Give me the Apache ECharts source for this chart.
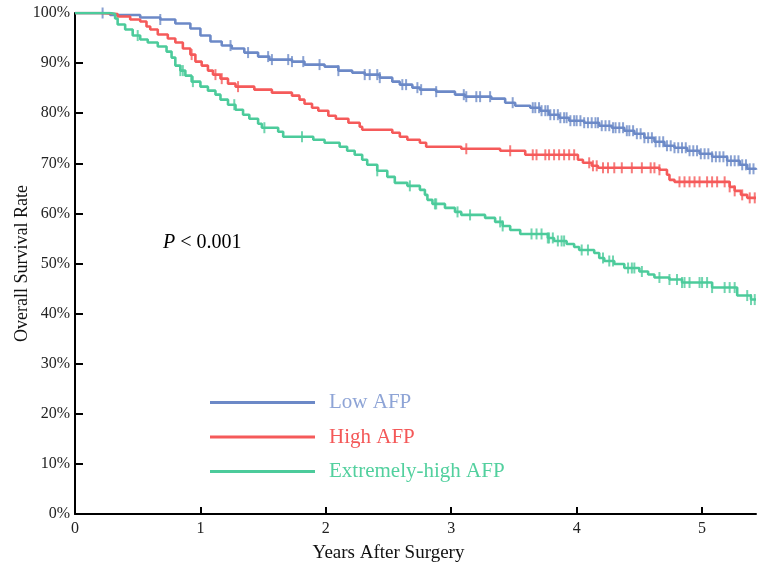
<!DOCTYPE html>
<html>
<head>
<meta charset="utf-8">
<script src="https://cdn.jsdelivr.net/npm/echarts@6/dist/echarts.min.js"></script>
<style>html,body{margin:0;padding:0;background:#fff}#c{width:758px;height:566px}</style>
</head>
<body>
<div id="c"></div>
<script>
// Kaplan-Meier drop points: [years, survival %] (step after each point)
var lowDrops = [[0,100],[0.28,99.6],[0.52,99.1],[0.68,98.7],[0.80,97.9],[0.92,96.9],[1.00,95.5],[1.08,94.3],[1.17,93.5],[1.25,92.9],[1.35,92.1],[1.46,91.3],[1.55,90.7],[1.73,90.3],[1.83,89.7],[1.99,89.3],[2.10,88.5],[2.21,88.1],[2.31,87.7],[2.43,87.1],[2.53,86.3],[2.59,85.7],[2.69,85.1],[2.75,84.7],[2.88,84.3],[3.03,83.7],[3.11,83.3],[3.32,82.9],[3.43,82.1],[3.51,81.5],[3.63,81.1],[3.71,80.5],[3.78,79.7],[3.86,79.1],[3.94,78.5],[4.06,78.1],[4.18,77.5],[4.28,77.1],[4.38,76.5],[4.46,75.9],[4.54,75.1],[4.62,74.3],[4.70,73.5],[4.78,73.1],[4.88,72.5],[4.98,71.9],[5.08,71.3],[5.20,70.5],[5.30,69.7],[5.36,68.9],[5.43,68.7]];
var highDrops = [[0,100],[0.20,99.8],[0.34,99.3],[0.44,98.7],[0.52,98.3],[0.57,97.3],[0.60,96.7],[0.66,95.7],[0.74,94.9],[0.80,94.1],[0.86,92.9],[0.92,91.7],[0.96,90.3],[1.01,89.5],[1.06,88.5],[1.10,87.7],[1.16,86.9],[1.22,85.9],[1.28,85.3],[1.43,84.7],[1.57,84.1],[1.73,83.5],[1.79,82.7],[1.83,81.9],[1.89,81.1],[1.94,80.5],[2.02,79.5],[2.08,78.9],[2.18,78.1],[2.27,77.3],[2.29,76.7],[2.53,76.1],[2.59,75.3],[2.65,74.7],[2.75,74.1],[2.80,73.3],[3.08,72.9],[3.39,72.5],[3.59,71.7],[4.01,70.7],[4.05,70.1],[4.12,69.5],[4.17,69.1],[4.66,68.7],[4.72,67.7],[4.74,66.7],[4.78,66.3],[5.22,65.3],[5.26,64.5],[5.31,63.7],[5.36,63.1],[5.43,63.1]];
var extDrops = [[0,100],[0.28,99.8],[0.32,98.9],[0.34,97.7],[0.40,96.7],[0.46,95.5],[0.52,94.7],[0.58,94.1],[0.66,93.3],[0.73,92.3],[0.77,91.1],[0.80,89.5],[0.84,88.5],[0.88,87.5],[0.93,86.3],[1.00,85.3],[1.06,84.5],[1.12,83.7],[1.16,82.7],[1.22,81.7],[1.28,80.7],[1.34,79.7],[1.39,78.9],[1.46,77.9],[1.49,77.1],[1.62,76.3],[1.66,75.3],[1.90,74.7],[1.99,74.1],[2.11,73.3],[2.17,72.5],[2.23,71.7],[2.29,70.7],[2.33,69.7],[2.41,68.5],[2.49,67.3],[2.55,66.1],[2.65,65.5],[2.75,64.7],[2.79,63.7],[2.81,62.7],[2.85,61.9],[2.95,61.1],[3.03,60.3],[3.08,59.7],[3.27,59.1],[3.35,58.3],[3.41,57.5],[3.47,56.7],[3.55,55.9],[3.77,55.1],[3.82,54.5],[3.92,53.9],[3.98,53.3],[4.02,52.7],[4.14,52.1],[4.18,51.1],[4.22,50.5],[4.30,49.9],[4.38,49.1],[4.50,48.4],[4.57,47.8],[4.62,47.2],[4.74,46.8],[4.84,46.2],[5.08,45.2],[5.28,43.6],[5.39,42.8],[5.43,42.8]];

// Censoring times (years)
var lowCensor = [0.22,0.68,1.24,1.38,1.54,1.57,1.70,1.73,1.82,1.95,2.10,2.31,2.35,2.41,2.43,2.61,2.64,2.73,2.76,2.88,3.10,3.12,3.20,3.23,3.31,3.49,3.65,3.67,3.70,3.72,3.75,3.77,3.79,3.82,3.85,3.87,3.90,3.92,3.95,3.98,4.00,4.03,4.06,4.09,4.12,4.15,4.17,4.20,4.23,4.26,4.29,4.31,4.34,4.37,4.40,4.42,4.45,4.48,4.51,4.54,4.57,4.60,4.63,4.66,4.69,4.72,4.75,4.78,4.81,4.84,4.87,4.90,4.93,4.96,4.99,5.02,5.05,5.08,5.11,5.14,5.17,5.20,5.23,5.26,5.29,5.32,5.35,5.38,5.41];
var highCensor = [0.93,1.12,1.17,1.30,3.12,3.47,3.65,3.68,3.75,3.78,3.82,3.86,3.90,3.94,3.98,4.10,4.13,4.16,4.21,4.25,4.30,4.36,4.44,4.52,4.59,4.62,4.66,4.82,4.86,4.90,4.94,4.98,5.04,5.08,5.12,5.18,5.22,5.26,5.32,5.38,5.42];
var extCensor = [0.50,0.84,0.86,0.94,1.27,1.51,1.81,2.41,2.67,2.87,2.88,3.05,3.15,3.39,3.41,3.64,3.68,3.72,3.77,3.78,3.81,3.85,3.88,3.90,4.04,4.09,4.21,4.26,4.29,4.41,4.44,4.46,4.52,4.66,4.74,4.80,4.84,4.86,4.90,4.98,5.00,5.04,5.08,5.18,5.22,5.26,5.36,5.39,5.42];

var groupNames = ['Low AFP','High AFP','Extremely-high AFP'];
var xTicks = [0,1,2,3,4,5];
var pText = '< 0.001';

var lineColors = ['#6c89c7','#f55a5a','#4ccb9b'];
var legendTextColors = ['#8ea4d6','#f45858','#52d09e'];
var FONT = "'Liberation Serif','Times New Roman','DejaVu Serif',serif";

function survAt(drops, t){ var s = drops[0][1]; for (var i=0;i<drops.length;i++){ if (drops[i][0] <= t) s = drops[i][1]; } return s; }
function censorPts(drops, times){ return times.map(function(t){ return [t, survAt(drops, t)]; }); }

var allDrops = [lowDrops, highDrops, extDrops];
var allCensor = [lowCensor, highCensor, extCensor];

var series = [];
for (var g=0; g<3; g++){
  series.push({
    name: groupNames[g], type:'line', step:'end', data: allDrops[g],
    showSymbol:false, symbol:'none', z: 2+g*2,
    lineStyle:{color:lineColors[g], width:2.6}, itemStyle:{color:lineColors[g]}, animation:false
  });
  series.push({
    name: groupNames[g]+' censored', type:'scatter', data: censorPts(allDrops[g], allCensor[g]),
    symbol:'rect', symbolSize:[2,11], z: 3+g*2,
    itemStyle:{color:lineColors[g]}, animation:false, silent:true
  });
}

var chart = echarts.init(document.getElementById('c'), null, {renderer:'canvas'});
chart.setOption({
  backgroundColor:'#fff',
  animation:false,
  grid:{left:75, right:2, top:13, bottom:52, containLabel:false, outerBoundsMode:'none'},
  xAxis:{
    type:'value', min:0, max:5.43,
    name:'Years After Surgery', nameLocation:'middle', nameGap:30,
    nameTextStyle:{fontFamily:FONT, fontSize:19, color:'#111', padding:[0,54,0,0]},
    axisLine:{show:true, onZero:false, lineStyle:{color:'#000', width:2}},
    axisTick:{show:true, inside:true, length:7, lineStyle:{color:'#000', width:2}, customValues:xTicks},
    axisLabel:{fontFamily:FONT, fontSize:16, color:'#222', margin:7, customValues:xTicks},
    splitLine:{show:false}
  },
  yAxis:{
    type:'value', min:0, max:100, interval:10,
    name:'Overall Survival Rate', nameLocation:'middle', nameGap:44, nameMoveOverlap:false,
    nameTextStyle:{fontFamily:FONT, fontSize:18, color:'#111'},
    axisLine:{show:true, onZero:false, lineStyle:{color:'#000', width:2}},
    axisTick:{show:true, inside:true, length:8, lineStyle:{color:'#000', width:2}},
    axisLabel:{fontFamily:FONT, fontSize:16, color:'#222', margin:5, formatter:'{value}%'},
    splitLine:{show:false}
  },
  legend:{
    orient:'vertical', left:205, top:387, itemWidth:105, itemHeight:3, itemGap:13.5, icon:'rect',
    selectedMode:false,
    data: groupNames.map(function(n,i){ return {name:n, textStyle:{color:legendTextColors[i]}}; }),
    textStyle:{fontFamily:FONT, fontSize:21, lineHeight:19, padding:[0,0,0,9]}
  },
  graphic:[{
    type:'text', left:163, top:233,
    style:{
      text:'{i|P} ' + pText,
      rich:{ i:{fontStyle:'italic', fontFamily:FONT, fontSize:20, fill:'#000'} },
      fontFamily:FONT, fontSize:20, fill:'#000'
    }
  }],
  series: series
});
</script>
</body>
</html>
